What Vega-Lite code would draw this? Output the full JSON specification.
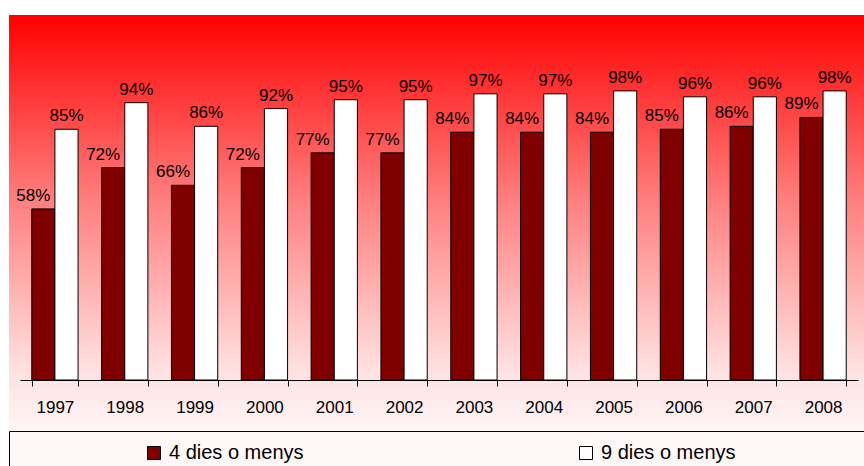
{
  "$schema": "https://vega.github.io/schema/vega-lite/v6.json",
  "width": 855,
  "height": 416,
  "autosize": {"type": "none"},
  "padding": {"left": 9, "top": 15, "right": 0, "bottom": 35},
  "background": "white",
  "config": {
    "font": "Liberation Sans",
    "view": {
      "stroke": null,
      "fill": {
        "gradient": "linear",
        "x1": 0, "y1": 0, "x2": 0, "y2": 1,
        "stops": [
          {"offset": 0, "color": "#ff0000"},
          {"offset": 0.45, "color": "#ff8080"},
          {"offset": 0.85, "color": "#ffe0e0"},
          {"offset": 1, "color": "#fff5f5"}
        ]
      }
    }
  },
  "data": {
    "values": [
      {"year": "1997", "series": "4 dies o menys", "value": 0.58},
      {"year": "1998", "series": "4 dies o menys", "value": 0.72},
      {"year": "1999", "series": "4 dies o menys", "value": 0.66},
      {"year": "2000", "series": "4 dies o menys", "value": 0.72},
      {"year": "2001", "series": "4 dies o menys", "value": 0.77},
      {"year": "2002", "series": "4 dies o menys", "value": 0.77},
      {"year": "2003", "series": "4 dies o menys", "value": 0.84},
      {"year": "2004", "series": "4 dies o menys", "value": 0.84},
      {"year": "2005", "series": "4 dies o menys", "value": 0.84},
      {"year": "2006", "series": "4 dies o menys", "value": 0.85},
      {"year": "2007", "series": "4 dies o menys", "value": 0.86},
      {"year": "2008", "series": "4 dies o menys", "value": 0.89},
      {"year": "1997", "series": "9 dies o menys", "value": 0.85},
      {"year": "1998", "series": "9 dies o menys", "value": 0.94},
      {"year": "1999", "series": "9 dies o menys", "value": 0.86},
      {"year": "2000", "series": "9 dies o menys", "value": 0.92},
      {"year": "2001", "series": "9 dies o menys", "value": 0.95},
      {"year": "2002", "series": "9 dies o menys", "value": 0.95},
      {"year": "2003", "series": "9 dies o menys", "value": 0.97},
      {"year": "2004", "series": "9 dies o menys", "value": 0.97},
      {"year": "2005", "series": "9 dies o menys", "value": 0.98},
      {"year": "2006", "series": "9 dies o menys", "value": 0.96},
      {"year": "2007", "series": "9 dies o menys", "value": 0.96},
      {"year": "2008", "series": "9 dies o menys", "value": 0.98}
    ]
  },
  "encoding": {
    "x": {
      "field": "year",
      "type": "nominal",
      "scale": {"range": [11, 849], "paddingInner": 0.337, "paddingOuter": 0.1685},
      "axis": {
        "title": null,
        "offset": -51,
        "labelAngle": 0,
        "labelFontSize": 17,
        "labelColor": "black",
        "labelPadding": 13,
        "domainColor": "black",
        "tickColor": "black",
        "tickSize": 6,
        "tickBand": "extent",
        "grid": false
      }
    },
    "xOffset": {
      "field": "series",
      "type": "nominal",
      "sort": ["4 dies o menys", "9 dies o menys"],
      "scale": {"paddingInner": 0, "paddingOuter": 0}
    },
    "y": {
      "field": "value",
      "type": "quantitative",
      "scale": {"domain": [0, 1], "range": [365, 70]},
      "axis": null
    }
  },
  "layer": [
    {
      "mark": {"type": "bar", "stroke": "black", "strokeWidth": 1},
      "encoding": {
        "color": {
          "field": "series",
          "type": "nominal",
          "sort": ["4 dies o menys", "9 dies o menys"],
          "scale": {"range": ["#800000", "#ffffff"]},
          "legend": {
            "orient": "none",
            "legendX": 0,
            "legendY": 416,
            "direction": "horizontal",
            "title": null,
            "symbolType": "square",
            "symbolSize": 169,
            "symbolStrokeColor": "black",
            "symbolStrokeWidth": 1,
            "symbolOffset": 123,
            "labelFontSize": 20,
            "labelColor": "black",
            "labelOffset": 5,
            "labelLimit": 600,
            "columnPadding": 149,
            "padding": 12,
            "strokeColor": "black",
            "fillColor": "#fff8f8",
            "labelExpr": "datum.label == '9 dies o menys' ? datum.label + '\u2800\u2800\u2800\u2800\u2800\u2800\u2800\u2800' : datum.label"
          }
        }
      }
    },
    {
      "transform": [{"filter": "datum.series == '4 dies o menys'"}],
      "mark": {"type": "text", "baseline": "alphabetic", "dy": -8, "dx": -10, "fontSize": 17, "color": "black"},
      "encoding": {"text": {"field": "value", "type": "quantitative", "format": ".0%"}}
    },
    {
      "transform": [{"filter": "datum.series == '9 dies o menys'"}],
      "mark": {"type": "text", "baseline": "alphabetic", "dy": -8, "fontSize": 17, "color": "black"},
      "encoding": {"text": {"field": "value", "type": "quantitative", "format": ".0%"}}
    }
  ]
}
